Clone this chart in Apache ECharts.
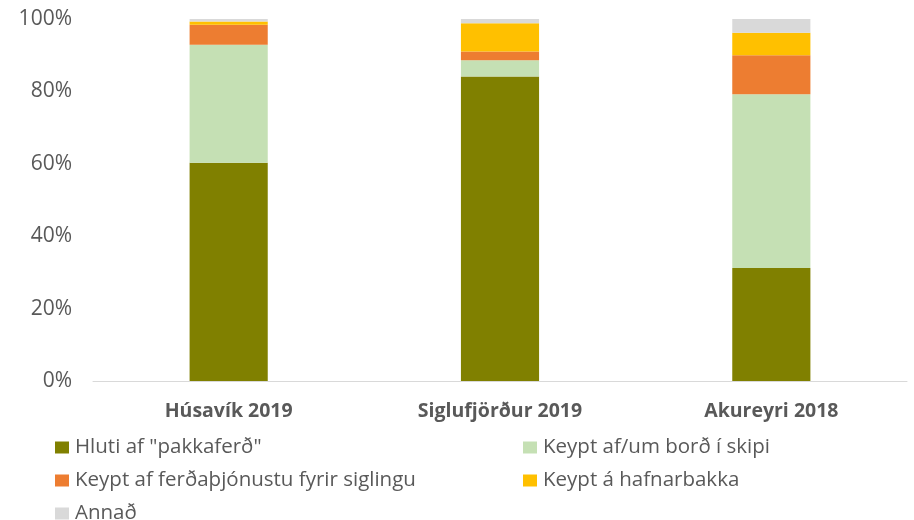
<!DOCTYPE html>
<html>
<head>
<meta charset="utf-8">
<script src="https://cdn.jsdelivr.net/npm/echarts@6/dist/echarts.min.js"></script>
<style>
  html, body { margin: 0; padding: 0; background: #fff; }
  #chart { width: 914px; height: 520px; }
</style>
</head>
<body>
<div id="chart"></div>
<script>
// staðir / ár
const categories = ['Húsavík 2019', 'Siglufjörður 2019', 'Akureyri 2018'];

// hlutfall í % fyrir hvern flokk
const pakkaferd = [60.3, 84.1, 31.2];
const bordSkipi = [32.6, 4.5, 48.0];
const ferdathjonusta = [5.5, 2.4, 10.8];
const hafnarbakki = [0.9, 7.8, 6.2];
const annad = [0.7, 1.2, 3.8];

const seriesNames = [
  'Hluti af "pakkaferð"',
  'Keypt af/um borð í skipi',
  'Keypt af ferðaþjónustu fyrir siglingu',
  'Keypt á hafnarbakka',
  'Annað'
];
const seriesData = [pakkaferd, bordSkipi, ferdathjonusta, hafnarbakki, annad];
const colors = ['#808000', '#C5E0B4', '#ED7D31', '#FFC000', '#D9D9D9'];

const FONT = '"Open Sans", Lato, sans-serif';
const chart = echarts.init(document.getElementById('chart'));

const legendText = { color: '#595959', fontSize: 20.5, fontFamily: FONT, lineHeight: 20, padding: [0, 0, 0, 1] };

chart.setOption({
  animation: false,
  color: colors,
  grid: { left: 93, right: 7, top: 19, bottom: 139 },
  legend: [
    {
      data: [seriesNames[0], seriesNames[2], seriesNames[4]],
      orient: 'vertical',
      left: 55,
      top: 437,
      height: 100,
      padding: 0,
      itemWidth: 14,
      itemHeight: 12,
      itemGap: 12,
      icon: 'rect',
      textStyle: legendText
    },
    {
      data: [seriesNames[1], seriesNames[3]],
      orient: 'vertical',
      left: 523,
      top: 437,
      height: 100,
      padding: 0,
      itemWidth: 14,
      itemHeight: 12,
      itemGap: 12,
      icon: 'rect',
      textStyle: legendText
    }
  ],
  xAxis: {
    type: 'category',
    data: categories,
    axisLine: { lineStyle: { color: '#D9D9D9', width: 1 } },
    axisTick: { show: false },
    axisLabel: {
      color: '#595959',
      fontSize: 19.5,
      fontWeight: 'bold',
      fontFamily: FONT,
      margin: 20
    }
  },
  yAxis: {
    type: 'value',
    min: 0,
    max: 100,
    interval: 20,
    splitLine: { show: false },
    axisLine: { show: false },
    axisTick: { show: false },
    axisLabel: {
      formatter: '{value}%',
      color: '#595959',
      fontSize: 21,
      fontFamily: FONT,
      margin: 21
    }
  },
  series: seriesNames.map((name, i) => ({
    name: name,
    type: 'bar',
    stack: 'total',
    barWidth: '28.8%',
    data: seriesData[i]
  }))
});
</script>
</body>
</html>
